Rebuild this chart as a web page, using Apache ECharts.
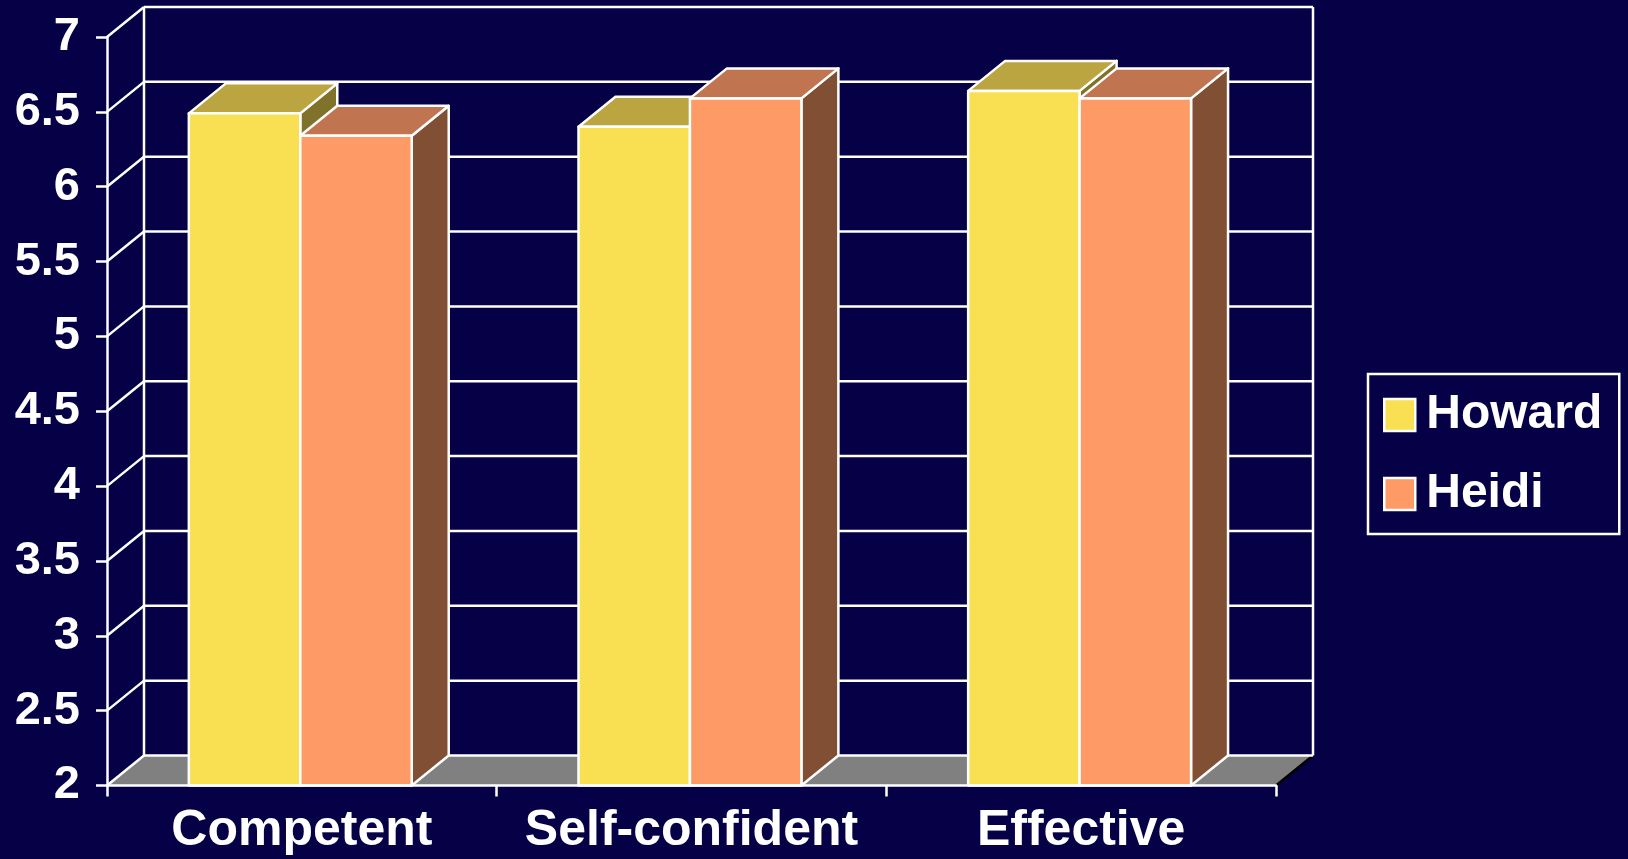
<!DOCTYPE html>
<html>
<head>
<meta charset="utf-8">
<script src="https://cdn.jsdelivr.net/npm/echarts@6/dist/echarts.min.js"></script>
<style>
html,body{margin:0;padding:0;background:#060046;}
#chart{width:1628px;height:859px;}
</style>
</head>
<body>
<div id="chart"></div>
<script>
// ---- data ----
const categories = ['Competent', 'Self-confident', 'Effective'];
const seriesNames = ['Howard', 'Heidi'];
const howard = [6.49, 6.40, 6.64];
const heidi = [6.34, 6.59, 6.59];
const yMin = 2;
const yMax = 7;
const yStep = 0.5;

// ---- style ----
const DEPTH_X = 37, DEPTH_Y = -30;
const BAR_FRAC = 0.286;
const LW = 2.5;
const FONT = '"Liberation Sans", Arial, Helvetica, sans-serif';
const faceColors = [
  { front: '#F9DF52', top: '#BBA540', side: '#80712B' },
  { front: '#FE9A66', top: '#C0744F', side: '#814F33' }
];

const yTicks = [];
for (let v = yMin; v <= yMax + 1e-9; v += yStep) yTicks.push(+v.toFixed(2));

function frameRender(params, api) {
  const cs = params.coordSys;
  const x0 = cs.x, x1 = cs.x + cs.width;
  const children = [];
  const line = (a, b, c, d, col) => children.push({
    type: 'line', shape: { x1: a, y1: b, x2: c, y2: d },
    style: { stroke: col || '#fff', lineWidth: LW }
  });
  const yb = api.coord([0, yMin])[1];
  const yt = api.coord([0, yMax])[1];
  // floor
  children.push({
    type: 'polygon',
    shape: { points: [[x0, yb], [x1, yb], [x1 + DEPTH_X, yb + DEPTH_Y], [x0 + DEPTH_X, yb + DEPTH_Y]] },
    style: { fill: '#808080' }
  });
  line(x1, yb, x1 + DEPTH_X, yb + DEPTH_Y, '#000');
  // back wall + side wall grid lines
  yTicks.forEach(v => {
    const y = api.coord([0, v])[1];
    line(x0 + DEPTH_X, y + DEPTH_Y, x1 + DEPTH_X, y + DEPTH_Y);
    line(x0, y, x0 + DEPTH_X, y + DEPTH_Y);
  });
  line(x0 + DEPTH_X, yt + DEPTH_Y, x0 + DEPTH_X, yb + DEPTH_Y);
  line(x1 + DEPTH_X, yt + DEPTH_Y, x1 + DEPTH_X, yb + DEPTH_Y);
  return { type: 'group', children };
}

function barRender(idx) {
  return function (params, api) {
    const cat = api.value(0), val = api.value(1);
    const band = api.size([1, 0])[0];
    const bw = band * BAR_FRAC;
    const top = api.coord([cat, val]);
    const base = api.coord([cat, yMin]);
    const xl = top[0] - bw - band * 0.004 + idx * bw;
    const xr = xl + bw;
    const yT = top[1], yB = base[1];
    const c = faceColors[idx];
    const st = (fill) => ({ fill, stroke: '#fff', lineWidth: LW, lineJoin: 'round' });
    return {
      type: 'group',
      children: [
        { type: 'polygon', shape: { points: [[xr, yT], [xr + DEPTH_X, yT + DEPTH_Y], [xr + DEPTH_X, yB + DEPTH_Y], [xr, yB]] }, style: st(c.side) },
        { type: 'polygon', shape: { points: [[xl, yT], [xr, yT], [xr + DEPTH_X, yT + DEPTH_Y], [xl + DEPTH_X, yT + DEPTH_Y]] }, style: st(c.top) },
        { type: 'rect', shape: { x: xl, y: yT, width: bw, height: yB - yT }, style: st(c.front) }
      ]
    };
  };
}

const chart = echarts.init(document.getElementById('chart'));
chart.setOption({
  backgroundColor: '#060046',
  animation: false,
  grid: { left: 107, right: 352, top: 37, bottom: 73.5, containLabel: false },
  legend: {
    data: seriesNames,
    orient: 'vertical',
    left: 1368, top: 374,
    padding: [17, 17, 16, 15],
    borderColor: '#fff', borderWidth: 2.5,
    itemWidth: 31, itemHeight: 32, itemGap: 31,
    icon: 'rect',
    itemStyle: { borderColor: '#fff', borderWidth: 2.5 },
    textStyle: { color: '#fff', fontSize: 48, fontWeight: 'bold', fontFamily: FONT, lineHeight: 32, padding: [0, 0, 0, 6] },
    selectedMode: false
  },
  xAxis: {
    type: 'category', data: categories, z: 10,
    axisLine: { lineStyle: { color: '#fff', width: LW } },
    axisTick: { show: true, interval: 0, length: 11, lineStyle: { color: '#fff', width: LW } },
    axisLabel: { interval: 0, color: '#fff', fontSize: 50, fontWeight: 'bold', fontFamily: FONT, margin: 21 },
    splitLine: { show: false }
  },
  yAxis: {
    type: 'value', min: yMin, max: yMax, interval: yStep, z: 10,
    axisLine: { show: true, lineStyle: { color: '#fff', width: LW } },
    axisTick: { show: true, length: 11, lineStyle: { color: '#fff', width: LW } },
    axisLabel: { color: '#fff', fontSize: 47, fontWeight: 'bold', fontFamily: FONT, margin: 27 },
    splitLine: { show: false }
  },
  series: [
    { name: 'frame', type: 'custom', silent: true, z: 1, data: [[0, yMin]], renderItem: frameRender },
    { name: 'Howard', type: 'custom', z: 3, itemStyle: { color: faceColors[0].front },
      data: howard.map((v, i) => [i, v]), renderItem: barRender(0) },
    { name: 'Heidi', type: 'custom', z: 3, itemStyle: { color: faceColors[1].front },
      data: heidi.map((v, i) => [i, v]), renderItem: barRender(1) }
  ]
});
</script>
</body>
</html>
